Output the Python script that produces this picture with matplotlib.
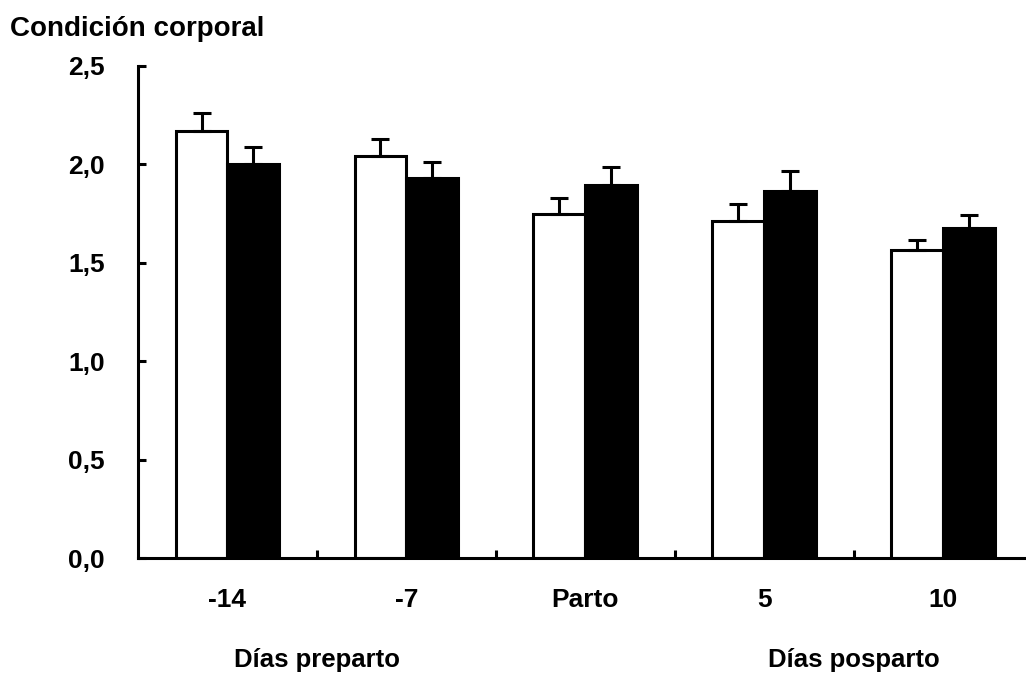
import numpy as np
import matplotlib.pyplot as plt

plt.rcParams['font.family'] = ['Liberation Sans', 'DejaVu Sans']
plt.rcParams['font.weight'] = 'bold'

# body condition score per sampling day, two groups
dias = ['-14', '-7', 'Parto', '5', '10']
grupo_blanco = [2.17, 2.04, 1.75, 1.71, 1.565]
error_blanco = [0.09, 0.09, 0.08, 0.09, 0.05]
grupo_negro = [2.00, 1.93, 1.895, 1.865, 1.675]
error_negro = [0.09, 0.08, 0.09, 0.10, 0.07]

fig = plt.figure(figsize=(10.26, 6.8), dpi=100)
ax = fig.add_axes([0.1345, 0.1794, 0.872, 0.7236])

x = np.arange(len(dias))
w = 0.29
lw = 2.2
fs = 19

ax.bar(x - w / 2, grupo_blanco, w, color='white', edgecolor='black', linewidth=lw,
       yerr=[np.zeros(len(dias)), error_blanco],
       error_kw=dict(ecolor='black', elinewidth=lw, capsize=6.5, capthick=lw))
ax.bar(x + w / 2, grupo_negro, w, color='black', edgecolor='black', linewidth=lw,
       yerr=[np.zeros(len(dias)), error_negro],
       error_kw=dict(ecolor='black', elinewidth=lw, capsize=6.5, capthick=lw))

ax.set_xlim(-0.5, 4.5)
ax.set_ylim(0, 2.5)

ax.spines['top'].set_visible(False)
ax.spines['right'].set_visible(False)
ax.spines['left'].set_linewidth(lw)
ax.spines['bottom'].set_linewidth(lw)

ax.set_yticks([0, 0.5, 1.0, 1.5, 2.0, 2.5])
ax.set_yticklabels(['0,0', '0,5', '1,0', '1,5', '2,0', '2,5'], fontsize=fs, fontweight='bold')
ax.tick_params(axis='y', direction='in', length=6, width=lw, pad=24)

# ticks sit on the group boundaries, labels at the group centres
ax.set_xticks(x[:-1] + 0.5)
ax.set_xticklabels([])
ax.tick_params(axis='x', direction='in', length=6, width=lw)
for xi, lab in zip(x, dias):
    ax.text(xi, -0.215, lab, ha='center', va='center', fontsize=fs, fontweight='bold')

ax.text(0.5, -0.52, 'Días preparto', ha='center', va='center', fontsize=18.5, fontweight='bold')
ax.text(3.5, -0.52, 'Días posparto', ha='center', va='center', fontsize=18.5, fontweight='bold')

fig.text(10 / 1026, 1 - 29 / 680, 'Condición corporal', ha='left', va='center',
         fontsize=20, fontweight='bold')

fig.savefig('out.png', dpi=100)
